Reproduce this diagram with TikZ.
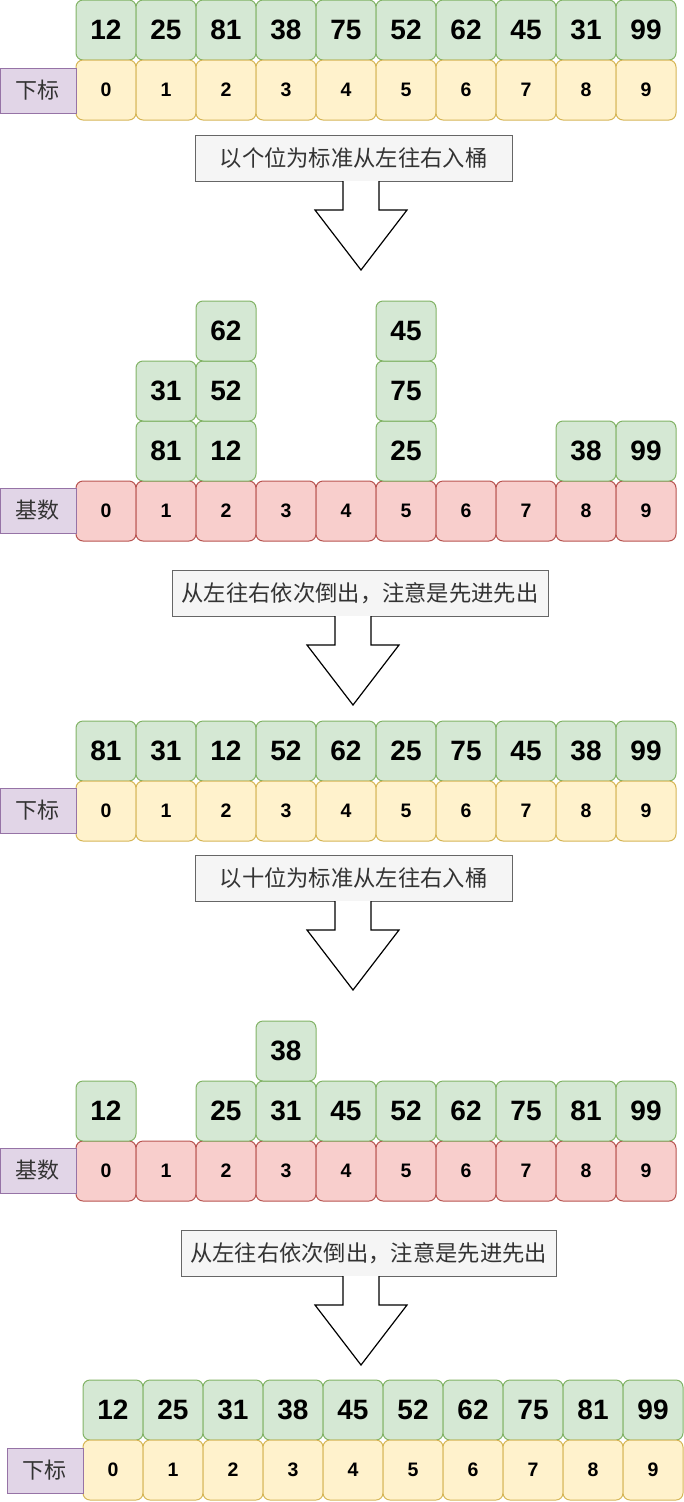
\documentclass[tikz,border=0pt]{standalone}
\usepackage{xcolor}
\usepackage{fontspec}
\setmainfont{Liberation Sans}
\newfontfamily\cjk{Noto Sans CJK SC}
\usepackage{tikz}
\usetikzlibrary{calc,positioning}
\definecolor{valfill}{HTML}{D5E8D4}
\definecolor{valline}{HTML}{82B366}
\definecolor{idxfill}{HTML}{FFF2CC}
\definecolor{idxline}{HTML}{D6B656}
\definecolor{bktfill}{HTML}{F8CECC}
\definecolor{bktline}{HTML}{B85450}
\definecolor{tagfill}{HTML}{E1D5E7}
\definecolor{tagline}{HTML}{9673A6}
\definecolor{notefill}{HTML}{F5F5F5}
\definecolor{noteline}{HTML}{666666}
\definecolor{notetext}{HTML}{333333}

\tikzset{
  cell/.style={minimum width=60pt, minimum height=60pt, inner sep=0pt, outer sep=0pt,
    rounded corners=7pt, line width=1pt},
  val/.style={cell, fill=valfill, draw=valline, font=\fontsize{28}{30}\selectfont\bfseries},
  idx/.style={cell, fill=idxfill, draw=idxline, font=\fontsize{19.5}{21}\selectfont\bfseries},
  bkt/.style={cell, fill=bktfill, draw=bktline, font=\fontsize{19.5}{21}\selectfont\bfseries},
  tag/.style={minimum width=76pt, minimum height=45pt, inner sep=0pt, outer sep=0pt,
    fill=tagfill, draw=tagline, line width=1pt, font=\cjk\fontsize{22}{24}\selectfont, text=notetext},
  note/.style={minimum height=46pt, inner sep=0pt, outer sep=0pt, fill=notefill,
    draw=noteline, line width=1pt, text=notetext, font=\cjk\fontsize{22.3}{24}\selectfont},
  bigarrow/.style={draw=black, fill=white, line width=1.2pt, line join=miter}
}

% hollow down arrow hanging under a note box, #2 = offset of its axis
\newcommand{\fatarrow}[2]{%
  \draw[bigarrow] ([xshift={(#2-18)*1pt}]#1.south) -- ++(0,29) -- ++(-28,0)
    -- ++(46,60) -- ++(46,-60) -- ++(-28,0) -- ++(0,-29);}

\begin{document}
\begin{tikzpicture}[x=1pt, y=-1pt]
  \useasboundingbox (0,0) rectangle (684,1502);

  % start
  \foreach \v [count=\i from 0] in {12,25,81,38,75,52,62,45,31,99} {
    \node[val] (a\i) at (106+60*\i,30) {\v};
    \node[idx] (ia\i) at (106+60*\i,90) {\i};
  }
  \node[tag] (taga) at (38,90.5) {下标};

  \node[note, minimum width=317pt] (n1) at (353.5,158) {以个位为标准从左往右入桶};
  \fatarrow{n1}{7.5}

  % buckets, ones digit
  \foreach \i in {0,...,9}
    \node[bkt] (kb\i) at (106+60*\i,511) {\i};
  \node[tag] (tagb) at (38,510.5) {基数};
  \foreach \b/\k/\v in {1/1/81, 1/2/31, 2/1/12, 2/2/52, 2/3/62,
                        5/1/25, 5/2/75, 5/3/45, 8/1/38, 9/1/99}
    \node[val] (b\b-\k) at (106+60*\b,511-60*\k) {\v};

  \node[note, minimum width=376pt] (n2) at (360,593) {从左往右依次倒出，注意是先进先出};
  \fatarrow{n2}{-7}

  % after first pass
  \foreach \v [count=\i from 0] in {81,31,12,52,62,25,75,45,38,99} {
    \node[val] (c\i) at (106+60*\i,751) {\v};
    \node[idx] (ic\i) at (106+60*\i,811) {\i};
  }
  \node[tag] (tagc) at (38,810.5) {下标};

  \node[note, minimum width=317pt] (n3) at (353.5,878) {以十位为标准从左往右入桶};
  \fatarrow{n3}{-0.5}

  % buckets, tens digit
  \foreach \i in {0,...,9}
    \node[bkt] (kd\i) at (106+60*\i,1171) {\i};
  \node[tag] (tagd) at (38,1170.5) {基数};
  \foreach \b/\k/\v in {0/1/12, 2/1/25, 3/1/31, 3/2/38, 4/1/45,
                        5/1/52, 6/1/62, 7/1/75, 8/1/81, 9/1/99}
    \node[val] (d\b-\k) at (106+60*\b,1171-60*\k) {\v};

  \node[note, minimum width=375pt] (n4) at (368.5,1253) {从左往右依次倒出，注意是先进先出};
  \fatarrow{n4}{-7.5}

  % sorted
  \foreach \v [count=\i from 0] in {12,25,31,38,45,52,62,75,81,99} {
    \node[val] (e\i) at (113+60*\i,1410) {\v};
    \node[idx] (ie\i) at (113+60*\i,1470) {\i};
  }
  \node[tag] (tage) at (45,1470.5) {下标};
\end{tikzpicture}
\end{document}
